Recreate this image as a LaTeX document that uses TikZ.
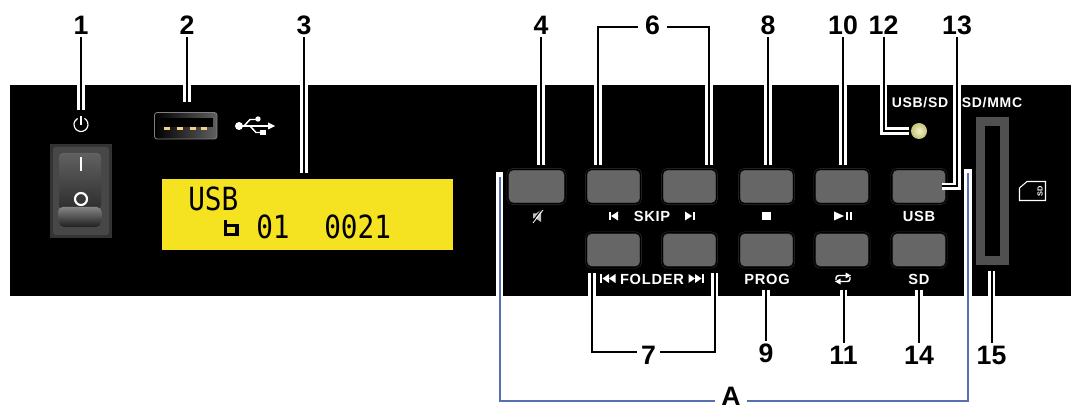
\documentclass[tikz,border=0pt]{standalone}
\usepackage{fontspec}
\setmainfont{Liberation Sans}
\newfontfamily\panelfont[LetterSpace=5]{Liberation Sans}
\newfontfamily\lcdfont{DejaVu Sans Mono}
\definecolor{btn}{HTML}{666666}
\definecolor{btnedge}{HTML}{303030}
\definecolor{lcd}{HTML}{F5E322}
\definecolor{slotgray}{HTML}{505050}
\definecolor{bracket}{HTML}{5870B0}
\definecolor{usbdot}{HTML}{F5CF8A}
\definecolor{ledin}{HTML}{F2F2C8}
\definecolor{ledout}{HTML}{C4C47A}
\tikzset{
  x=0.75pt,y=-0.75pt,
  leader/.style={draw=black,line width=1.5pt,preaction={draw=white,line width=5.4pt}},
  halo/.style={draw=white,line width=5.4pt},
  bluebar/.style={draw=bracket,line width=1.5pt},
  num/.style={inner sep=0pt,font=\bfseries\fontsize{20}{20}\selectfont,text=black,minimum height=18pt},
  btnbox/.style={draw=btnedge,line width=.4pt,double=black,double distance=.9pt,fill=btn,rounded corners=4pt,minimum width=41pt,minimum height=26pt,inner sep=0pt},
  captxt/.style={inner sep=0pt,text=white,font=\panelfont\bfseries\fontsize{11}{11}\selectfont},
  ink/.style={fill=white,draw=none},
  lcdtxt/.style={inner sep=0pt,anchor=west,yscale=1.15,font=\lcdfont\fontsize{20.8}{20.8}\selectfont,text=black}
}
\begin{document}
\begin{tikzpicture}
\useasboundingbox (0,0) rectangle (1071,406);
\fill[black] (9.5,85) rectangle (1071,296);

% power switch
\draw[white,line width=.9pt] (81,124.5) +(-60:7) arc[start angle=-60,end angle=240,radius=7];
\draw[white,line width=.9pt] (81,116.5) -- (81,125);
\fill[black!80] (50,144) rectangle (112,238);
\fill[black!72,rounded corners=2pt] (53,147) rectangle (109,235);
\path[top color=black!62,bottom color=black!82,rounded corners=3pt] (59,153) rectangle (101,209);
\path[top color=black!48,bottom color=black!88,rounded corners=4pt] (57.5,207) -- (102,207) -- (101,227) -- (59,227) -- cycle;
\fill[white] (80,157) rectangle (82,171);
\draw[white,line width=1.6pt] (81,199) circle[radius=6];

% usb port
\path[left color=black,right color=black!62,draw=black!50,line width=.6pt,rounded corners=2pt] (154.5,112.5) rectangle (217,139);
\fill[black] (160,118) rectangle (213,127);
\foreach \ux in {167,180,193,204}{\fill[usbdot] (\ux-3,127) rectangle (\ux+3,130.5);}
% usb symbol
\fill[white] (239,126) circle[radius=4];
\draw[white,line width=1.1pt] (239,126) -- (269,126);
\fill[white] (268,122.5) -- (275,126) -- (268,129.5) -- cycle;
\draw[white,line width=1.1pt] (244,126) -- (250,119.5) -- (257,119.5);
\fill[white] (258,119) circle[radius=2.7];
\draw[white,line width=1.1pt] (250,126) -- (256,132.5) -- (261,132.5);
\fill[white] (260,130) rectangle (266,135);

% display
\node[fill=lcd,inner sep=0pt,minimum width=218.5pt,minimum height=53.5pt] (disp) at (307.5,214.5) {};
\node[lcdtxt] (t1) at (188,198.5) {USB};
\node[lcdtxt] (t2) at (256,226.5) {01};
\node[lcdtxt] (t3) at (324,226.5) {0021};
\draw[black,line width=2.4pt] (225.5,220) -- (225.5,234.5) -- (237,234.5) -- (237,225.5) -- (225.5,225.5);

% buttons
\node[btnbox,minimum width=43pt] (b4) at (536.5,186.5) {};
\node[btnbox] (b5a) at (613.5,186.5) {};
\node[btnbox] (b5b) at (689.5,186.5) {};
\node[btnbox] (b8) at (766.5,186.5) {};
\node[btnbox] (b10) at (842,186.5) {};
\node[btnbox] (bU) at (919,186.5) {};
\node[btnbox] (b7a) at (613.5,250) {};
\node[btnbox] (b7b) at (689.5,250) {};
\node[btnbox] (b9) at (766.5,250) {};
\node[btnbox] (b11) at (842,250) {};
\node[btnbox] (bS) at (919,250) {};

% button captions
\node[captxt] (skip) at (652,216) {SKIP};
\node[captxt] (folder) at (652,279) {FOLDER};
\node[captxt] (prog) at (767,279) {PROG};
\node[captxt] (usb) at (919,216) {USB};
\node[captxt] (sd) at (919,279) {SD};
\node[captxt,font=\panelfont\bfseries\fontsize{10.5}{10.5}\selectfont] (usbsd) at (920,103) {USB/SD};
\node[captxt,font=\panelfont\bfseries\fontsize{10.5}{10.5}\selectfont] (sdmmc) at (992,103) {SD/MMC};

% small symbols
\fill[ink] (608.5,212) rectangle (610.5,220.5);
\fill[ink] (618,211.5) -- (618,220.5) -- (611,216) -- cycle;
\fill[ink] (685,211.5) -- (685,220.5) -- (692,216) -- cycle;
\fill[ink] (693,212) rectangle (695,220.5);
\fill[ink] (762,212) rectangle (771,220.5);
\fill[ink] (834,211.5) -- (834,220.5) -- (844,216) -- cycle;
\fill[ink] (846,212) rectangle (848.3,220.5);
\fill[ink] (849.7,212) rectangle (852,220.5);
\fill[black!25] (533,213.5) -- (536,213.5) -- (541,210) -- (541,222) -- (536,218.5) -- (533,218.5) -- cycle;
\draw[black,line width=.7pt] (532,222) -- (542,209);
\draw[white,line width=.6pt] (533,223) -- (543,210);
\fill[ink] (600,274) rectangle (602,283);
\fill[ink] (609,274) -- (609,283) -- (602.5,278.5) -- cycle;
\fill[ink] (615.5,274) -- (615.5,283) -- (609,278.5) -- cycle;
\fill[ink] (688.5,274) -- (688.5,283) -- (695,278.5) -- cycle;
\fill[ink] (695,274) -- (695,283) -- (701.5,278.5) -- cycle;
\fill[ink] (702,274) rectangle (704,283);
% repeat symbol
\draw[white,line width=1.1pt,rounded corners=2pt] (836,280) -- (836,275.5) -- (846,275.5);
\draw[white,line width=1.1pt,rounded corners=2pt] (850,277) -- (850,281.5) -- (840,281.5);
\fill[ink] (845.5,272.5) -- (851,275.5) -- (845.5,278.5) -- cycle;
\fill[ink] (840.5,278.5) -- (835,281.5) -- (840.5,284.5) -- cycle;

% led
\node[circle,inner sep=0pt,minimum size=12pt,draw=none,inner color=ledin,outer color=ledout] (led) at (919,131) {};

% sd slot
\node[draw=slotgray,fill=black,line width=6.9pt,inner sep=0pt,minimum width=18.5pt,minimum height=104.5pt] (slot) at (992.5,191) {};
\draw[white,line width=.8pt] (1027,181.5) -- (1045.5,181.5) -- (1045.5,200.5) -- (1019.5,200.5) -- (1019.5,188) -- cycle;
\node[inner sep=0pt,text=white,rotate=90,font=\bfseries\fontsize{5.5}{5.5}\selectfont] (sdicon) at (1040,191) {SD};

% numbers
\node[num] (l1) at (81,25) {1};
\node[num] (l2) at (187,25) {2};
\node[num] (l3) at (304,25) {3};
\node[num] (l4) at (541,25) {4};
\node[num,minimum width=21pt] (l6) at (652.5,25) {6};
\node[num] (l8) at (768,25) {8};
\node[num] (l10) at (843,25) {10};
\node[num] (l12) at (883.5,25) {12};
\node[num] (l13) at (957,25) {13};
\node[num,minimum width=17pt] (l7) at (648.5,355) {7};
\node[num] (l9) at (766,353) {9};
\node[num] (l11) at (843.5,355) {11};
\node[num] (l14) at (919,355) {14};
\node[num] (l15) at (991.5,355) {15};
\node[num,minimum height=0pt] (lA) at (731,396) {A};

% leader ends
\coordinate (c1) at (81,110);
\coordinate (c2) at (187,102);
\coordinate (c3) at (304,173);
\coordinate (c4) at (541,165);
\coordinate (c6l) at (638,27);
\coordinate (c6r) at (667,27);
\coordinate (c6a) at (598,165);
\coordinate (c6b) at (709,165);
\coordinate (c8) at (768,165);
\coordinate (c10) at (843,165);
\coordinate (c7l) at (637,352);
\coordinate (c7r) at (660,352);
\coordinate (c7a) at (592,273);
\coordinate (c7b) at (714.5,273);
\coordinate (c9) at (766,290);
\coordinate (c11) at (843.5,290);
\coordinate (c14) at (919,290);
\coordinate (c15) at (991.5,271);

\draw[leader] (l1.south) -- (c1);
\draw[leader] (l2.south) -- (c2);
\draw[leader] (l3.south) -- (c3);
\draw[leader] (l4.south) -- (c4);
\draw[leader] (c6a) |- (c6l);
\draw[leader] (c6b) |- (c6r);
\draw[leader] (l8.south) -- (c8);
\draw[leader] (l10.south) -- (c10);
\draw[leader,shorten >=1pt] (l12.south) |- (led.west);
\draw[leader,shorten >=-3.75pt] (l13.south) |- (bU.east);
\draw[leader] (c7a) |- (c7l);
\draw[leader] (c7b) |- (c7r);
\draw[leader] (l9.north) -- (c9);
\draw[leader] (l11.north) -- (c11);
\draw[leader] (l14.north) -- (c14);
\draw[leader] (l15.north) -- (c15);

% group A
\coordinate (hAl) at (499.5,172.5);
\coordinate (hAlb) at (499.5,296);
\coordinate (hAr) at (968,169);
\coordinate (hArb) at (968,296);
\coordinate (aLt) at (499.5,177);
\coordinate (aRt) at (968,173);
\coordinate (aLm) at (715,400.5);
\coordinate (aRm) at (747,400.5);
\draw[halo] (hAl) -- (hAlb);
\draw[halo] (hAr) -- (hArb);
\draw[bluebar] (aLt) |- (aLm);
\draw[bluebar] (aRt) |- (aRm);
\end{tikzpicture}
\end{document}
